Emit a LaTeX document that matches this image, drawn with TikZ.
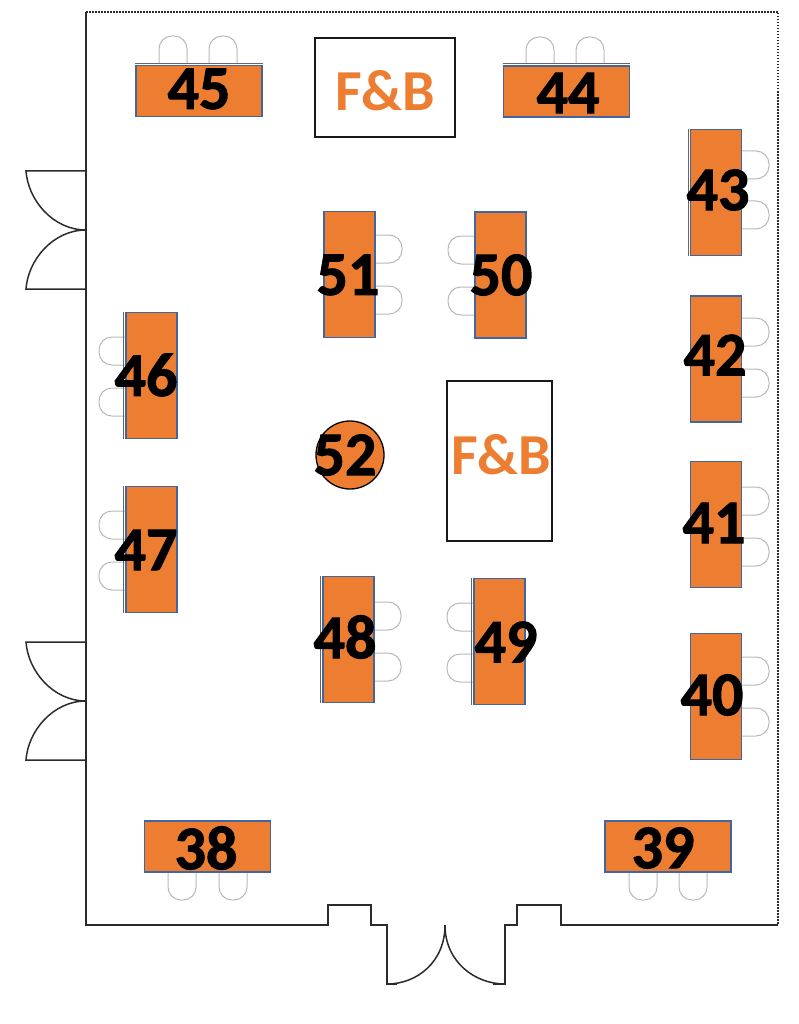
\documentclass[tikz,border=0pt]{standalone}
\usepackage{fontspec}
\setmainfont{Carlito}
\newfontfamily\numberfont[BoldFeatures={FakeBold=1.6}]{Carlito}
\definecolor{tableorange}{HTML}{ED7D31}
\definecolor{tableblue}{HTML}{41659F}
\definecolor{wallgrey}{HTML}{2B2B2B}
\definecolor{chairgrey}{HTML}{B8B8B8}
\tikzstyle{htable}=[rectangle,draw=tableblue,fill=tableorange,line width=1.6pt,minimum width=126pt,minimum height=51pt,inner sep=0pt]
\tikzstyle{vtable}=[rectangle,draw=tableblue,fill=tableorange,line width=1.6pt,minimum width=51pt,minimum height=126pt,inner sep=0pt]
\tikzstyle{roundtable}=[circle,draw=black,fill=tableorange,line width=1.3pt,minimum size=68pt,inner sep=0pt]
\tikzstyle{number}=[font=\numberfont\fontsize{62}{62}\selectfont\bfseries,text=black,inner sep=0pt]
\tikzstyle{fbbox}=[rectangle,draw=black!90,fill=white,line width=1.5pt,inner sep=0pt]
\tikzstyle{fblabel}=[font=\fontsize{58}{58}\selectfont\bfseries,text=tableorange,inner sep=0pt]
\tikzstyle{wall}=[draw=wallgrey,line width=1.5pt,line join=miter]
\tikzstyle{chairline}=[draw=chairgrey,line width=1pt,rounded corners=13pt]
\tikzstyle{tableedge}=[draw=black!60,line width=1pt]
\tikzset{chair/.pic={\path[chairline] (-14,0) -- (-14,-27) -- (14,-27) -- (14,0);}}
\begin{document}
\begin{tikzpicture}[x=1pt,y=-1pt]
    \useasboundingbox (0,0) rectangle (798,1024);
    % First we draw the walls
    \path[wall] (778,925) -- (561,925) -- (561,905) -- (517,905) -- (517,925) -- (505,925) -- (505,984) -- (493,984);
    \path[wall] (86,12) -- (86,925) -- (328,925) -- (328,905) -- (371,905) -- (371,925) -- (387,925) -- (387,984) -- (397,984);
    \draw[wallgrey,line width=1.5pt,dash pattern=on 1.5pt off 1.5pt] (86,12) -- (778,12) -- (778,925);
    % Doors on the left and at the bottom
    \foreach \top/\mid/\low in {171/230/289, 642/701/760}{
        \path[wall] (86,\top) -- (26,\top) .. controls (28,\top+29) and (53,\mid) .. (86,\mid);
        \path[wall] (86,\low) -- (26,\low) .. controls (28,\low-29) and (53,\mid) .. (86,\mid);
    }
    \path[wall] (387,984) .. controls (417,984) and (445,962) .. (445,925);
    \path[wall] (505,984) .. controls (475,984) and (445,962) .. (445,925);
    % Then the chairs
    \foreach \pos/\rot in {{(173,63)/0}, {(223,63)/0}, {(540,64)/0}, {(590,64)/0},
        {(182,873)/180}, {(233,873)/180}, {(643,873)/180}, {(693,873)/180},
        {(742,165)/-90}, {(742,215)/-90}, {(742,332)/-90}, {(742,383)/-90},
        {(742,501)/-90}, {(742,552)/-90}, {(742,671)/-90}, {(742,722)/-90},
        {(375,249)/-90}, {(375,300)/-90}, {(374,616)/-90}, {(374,667)/-90},
        {(475,250)/90}, {(475,301)/90}, {(474,617)/90}, {(474,668)/90},
        {(126,351)/90}, {(126,402)/90}, {(126,525)/90}, {(126,576)/90}}
        \pic[rotate=\rot] at \pos {chair};
    % Now the tables
    \foreach \pos/\name in {{(199,91)/45}, {(566.5,91.5)/44}, {(207.5,846.5)/38}, {(668,846.5)/39}}
        \node[htable] (T\name) at \pos {};
    \foreach \pos/\name in {{(716,192.5)/43}, {(716,359)/42}, {(716,524.5)/41}, {(716,696.5)/40},
        {(349.5,274.5)/51}, {(500.5,275)/50}, {(151.5,375.5)/46}, {(151.5,549.5)/47},
        {(348.5,639.5)/48}, {(499.5,641.5)/49}}
        \node[vtable] (T\name) at \pos {};
    \node[roundtable] (T52) at (350,455) {};
    % Edges of the chair rows that show behind the tables
    \foreach \name in {45,44}
        \path[tableedge] ([yshift=1.5pt]T\name.north west) -- ([yshift=1.5pt]T\name.north east);
    \foreach \name in {43,46,47,48,49}
        \path[tableedge] ([xshift=-1.5pt]T\name.north west) -- ([xshift=-1.5pt]T\name.south west);
    % F&B boxes
    \node[fbbox,minimum width=140pt,minimum height=99pt] (FB1) at (385,87.5) {};
    \node[fbbox,minimum width=105pt,minimum height=160pt] (FB2) at (499.5,461) {};
    \node[fblabel] (FBtext1) at (385,91) {F\&B};
    \node[fblabel] (FBtext2) at (501,455) {F\&B};
    % Finally the numbers
    \foreach \pos/\name in {{(199,89)/45}, {(568,93)/44}, {(718,190)/43}, {(715,355)/42},
        {(714,523)/41}, {(712,695)/40}, {(348,275)/51}, {(501,275)/50}, {(146,375)/46},
        {(146,550)/47}, {(345,637)/48}, {(506,642)/49}, {(345,455)/52}, {(206,848)/38}, {(663,848)/39}}
        \node[number] (N\name) at \pos {\name};
\end{tikzpicture}
\end{document}
